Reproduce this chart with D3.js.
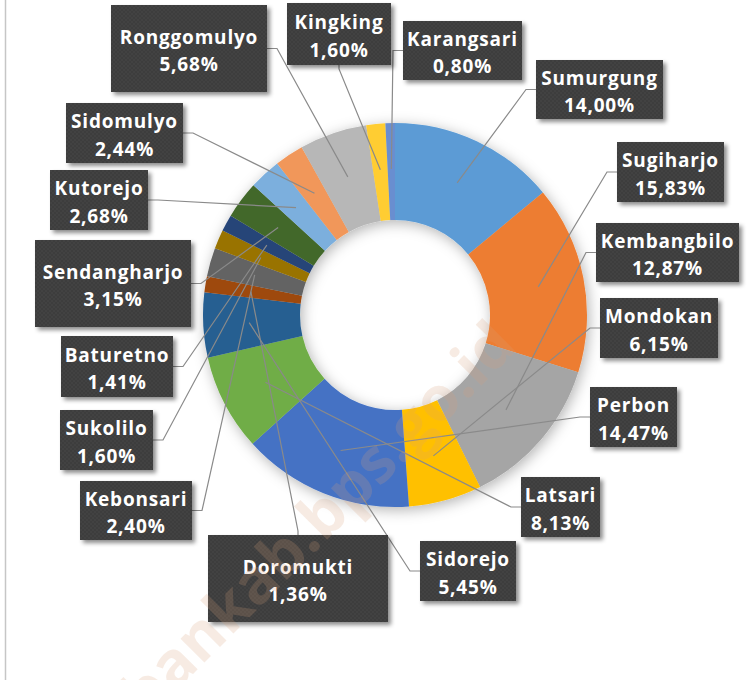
<!DOCTYPE html>
<html>
<head>
<meta charset="utf-8">
<script src="https://cdn.jsdelivr.net/npm/d3@7"></script>
<style>
  html, body { margin: 0; padding: 0; background: #fff; }
  svg { display: block; }
</style>
</head>
<body>
<div id="chart"></div>
<script>
const names = ["Sumurgung", "Sugiharjo", "Kembangbilo", "Mondokan", "Perbon", "Latsari", "Sidorejo",
  "Doromukti", "Kebonsari", "Sukolilo", "Baturetno", "Sendangharjo", "Kutorejo", "Sidomulyo",
  "Ronggomulyo", "Kingking", "Karangsari"];
const values = [14.00, 15.83, 12.87, 6.15, 14.47, 8.13, 5.45, 1.36, 2.40, 1.60, 1.41, 3.15, 2.68, 2.44, 5.68, 1.60, 0.80];
const colors = ["#5b9bd5", "#ed7d31", "#a5a5a5", "#ffc000", "#4472c4", "#70ad47", "#255e91",
  "#9e480e", "#636363", "#997300", "#264478", "#43682b", "#7cafdd", "#f1975a", "#b7b7b7", "#ffcd33", "#698ed0"];

// label boxes as placed in the source chart: x, y, w, h, side the leader leaves from
const boxes = {
  Ronggomulyo: [111, 5, 156, 87, "right"],
  Kingking: [287, 3, 104, 62, "bottom"],
  Karangsari: [403, 21, 119, 59, "left"],
  Sumurgung: [536, 60, 127, 59, "left"],
  Sugiharjo: [617, 142, 107, 60, "left"],
  Kembangbilo: [596, 223, 143, 59, "left"],
  Mondokan: [600, 298, 118, 60, "left"],
  Perbon: [590, 387, 87, 60, "left"],
  Latsari: [521, 477, 79, 60, "left"],
  Sidorejo: [420, 541, 96, 60, "left"],
  Doromukti: [208, 535, 180, 87, "top"],
  Kebonsari: [80, 481, 112, 59, "right"],
  Sukolilo: [60, 410, 93, 60, "right"],
  Baturetno: [61, 336, 112, 61, "right"],
  Sendangharjo: [35, 240, 156, 87, "right"],
  Kutorejo: [50, 170, 98, 60, "right"],
  Sidomulyo: [66, 103, 117, 60, "right"]
};

const width = 753, height = 680;
const cx = 395, cy = 315, outer = 192, inner = 95, leaderR = 146;

const fmt = v => d3.format(".2f")(v).replace(".", ",") + "%";

const svg = d3.select("#chart").append("svg")
  .attr("width", width)
  .attr("height", height);

const defs = svg.append("defs");
const ringShadow = defs.append("filter").attr("id", "ringShadow")
  .attr("x", "-20%").attr("y", "-20%").attr("width", "140%").attr("height", "140%");
ringShadow.append("feDropShadow")
  .attr("dx", 2).attr("dy", 3).attr("stdDeviation", 7)
  .attr("flood-color", "#000").attr("flood-opacity", 0.3);

const boxShadow = defs.append("filter").attr("id", "boxShadow")
  .attr("x", "-20%").attr("y", "-20%").attr("width", "140%").attr("height", "140%");
boxShadow.append("feDropShadow")
  .attr("dx", 3).attr("dy", 3).attr("stdDeviation", 2)
  .attr("flood-color", "#000").attr("flood-opacity", 0.45);

// dotted texture of the label boxes
const dots = defs.append("pattern").attr("id", "dots")
  .attr("width", 4).attr("height", 4).attr("patternUnits", "userSpaceOnUse");
dots.append("rect").attr("width", 4).attr("height", 4).attr("fill", "#3c3c3c");
dots.append("circle").attr("cx", 1).attr("cy", 1).attr("r", 0.7).attr("fill", "#4d4d4d");
dots.append("circle").attr("cx", 3).attr("cy", 3).attr("r", 0.7).attr("fill", "#4d4d4d");

// frame line on the left
svg.append("line")
  .attr("x1", 5.5).attr("x2", 5.5).attr("y1", 0).attr("y2", height)
  .attr("stroke", "#c6c6c6").attr("stroke-width", 1.5);

const pie = d3.pie().sort(null).value(d => d.value).startAngle(0).endAngle(2 * Math.PI);
const arcs = pie(names.map((n, i) => ({ name: n, value: values[i], color: colors[i] })));

const arc = d3.arc().innerRadius(inner).outerRadius(outer);
const leaderArc = d3.arc().innerRadius(leaderR).outerRadius(leaderR);

const ring = svg.append("g")
  .attr("transform", `translate(${cx},${cy})`)
  .attr("filter", "url(#ringShadow)");
ring.selectAll("path")
  .data(arcs)
  .join("path")
  .attr("d", arc)
  .attr("fill", d => d.data.color);

// leader lines
function leaderPoints(d) {
  const [bx, by, bw, bh, side] = boxes[d.data.name];
  const c = leaderArc.centroid(d);
  const end = [cx + c[0], cy + c[1]];
  let start, elbow;
  if (side === "left") {
    start = [bx, by + bh / 2];
    elbow = [bx - 10, by + bh / 2];
  } else if (side === "right") {
    start = [bx + bw, by + bh / 2];
    elbow = [bx + bw + 10, by + bh / 2];
  } else if (side === "top") {
    start = [bx + bw / 2, by];
    elbow = [bx + bw / 2, by - 4];
  } else {
    start = [bx + bw / 2, by + bh];
    elbow = [bx + bw / 2, by + bh + 4];
  }
  return [start, elbow, end];
}

svg.append("g")
  .selectAll("polyline")
  .data(arcs)
  .join("polyline")
  .attr("points", d => leaderPoints(d).map(p => p.join(",")).join(" "))
  .attr("fill", "none")
  .attr("stroke", "#8a8a8a")
  .attr("stroke-width", 1.2);

// label boxes
const label = svg.append("g")
  .selectAll("g")
  .data(arcs)
  .join("g")
  .attr("transform", d => `translate(${boxes[d.data.name][0]},${boxes[d.data.name][1]})`);

label.append("rect")
  .attr("width", d => boxes[d.data.name][2])
  .attr("height", d => boxes[d.data.name][3])
  .attr("fill", "url(#dots)")
  .attr("filter", "url(#boxShadow)");

const txt = label.append("text")
  .attr("text-anchor", "middle")
  .attr("fill", "#fff")
  .style("font-family", "'Open Sans', sans-serif")
  .style("font-weight", 700)
  .style("font-size", "19px")
  .style("letter-spacing", "0.8px");
txt.append("tspan")
  .attr("x", d => boxes[d.data.name][2] / 2)
  .attr("y", d => boxes[d.data.name][3] / 2 - 5)
  .text(d => d.data.name);
txt.append("tspan")
  .attr("x", d => boxes[d.data.name][2] / 2)
  .attr("y", d => boxes[d.data.name][3] / 2 + 22.5)
  .text(d => fmt(d.data.value));

// site watermark
svg.append("text")
  .attr("transform", "translate(99,768) rotate(-45)")
  .attr("fill", "#d9a07a")
  .attr("opacity", 0.2)
  .style("font-family", "'Open Sans', sans-serif")
  .style("font-weight", 700)
  .style("font-size", "62px")
  .text("tubankab.bps.go.id");
</script>
</body>
</html>
